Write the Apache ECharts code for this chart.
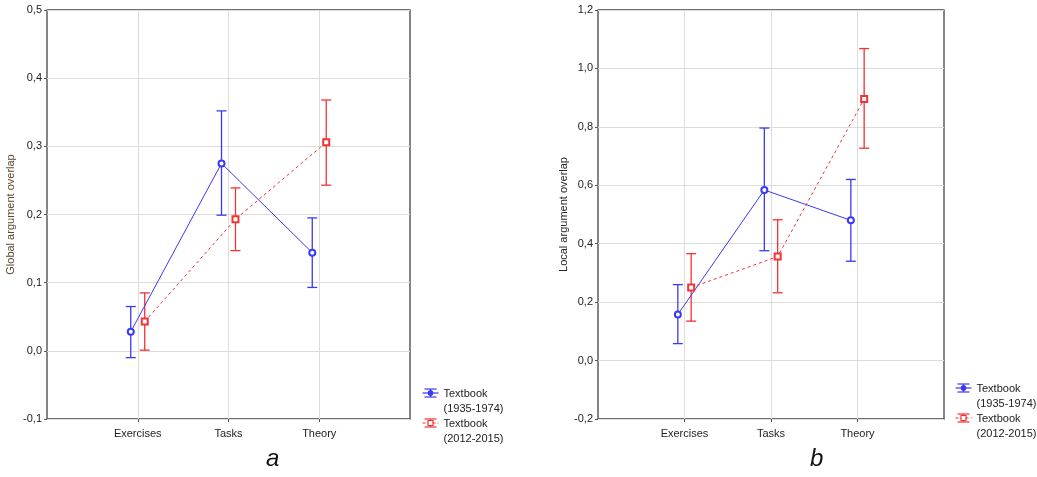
<!DOCTYPE html>
<html>
<head>
<meta charset="utf-8">
<script src="https://cdn.jsdelivr.net/npm/echarts@6/dist/echarts.min.js"></script>
<style>
html,body{margin:0;padding:0;background:#fff;}
#chart{width:1037px;height:477px;}
</style>
</head>
<body>
<div id="chart"></div>
<script>
// 数据 ------------------
var categories = ['Exercises', 'Tasks', 'Theory'];
var seriesNames = ['Textbook\n(1935-1974)', 'Textbook\n(2012-2015)'];

// a: Global argument overlap
var globalOld = [0.028, 0.275, 0.144];
var globalOldLow = [-0.010, 0.199, 0.093];
var globalOldHigh = [0.065, 0.352, 0.195];
var globalNew = [0.043, 0.193, 0.306];
var globalNewLow = [0.001, 0.147, 0.243];
var globalNewHigh = [0.085, 0.239, 0.368];

// b: Local argument overlap
var localOld = [0.158, 0.584, 0.480];
var localOldLow = [0.058, 0.376, 0.340];
var localOldHigh = [0.260, 0.796, 0.620];
var localNew = [0.250, 0.356, 0.895];
var localNewLow = [0.135, 0.232, 0.727];
var localNewHigh = [0.366, 0.482, 1.068];

var BLUE = '#3a3af2';
var RED = '#f23333';
var OFFSET = 0.077;

function pts(vals, off) {
	return vals.map(function (v, i) { return [i + 1 + off, v]; });
}
function errPts(low, high, off) {
	return low.map(function (l, i) { return [i + 1 + off, l, high[i]]; });
}
function comma(v) {
	return (Math.round(v * 10) / 10).toFixed(1).replace('.', ',');
}

function errSeries(idx, data, color) {
	return {
		type: 'custom',
		xAxisIndex: idx, yAxisIndex: idx,
		silent: true,
		z: 3,
		encode: { x: 0, y: [1, 2] },
		renderItem: function (params, api) {
			var x = api.value(0);
			var lo = api.coord([x, api.value(1)]);
			var hi = api.coord([x, api.value(2)]);
			var w = 5;
			var st = { stroke: color, lineWidth: 1.3 };
			return {
				type: 'group',
				children: [
					{ type: 'line', shape: { x1: lo[0], y1: lo[1], x2: hi[0], y2: hi[1] }, style: st },
					{ type: 'line', shape: { x1: lo[0] - w, y1: lo[1], x2: lo[0] + w, y2: lo[1] }, style: st },
					{ type: 'line', shape: { x1: hi[0] - w, y1: hi[1], x2: hi[0] + w, y2: hi[1] }, style: st }
				]
			};
		},
		data: data
	};
}

function lineSeries(idx, data, color, dashed) {
	return {
		type: 'line',
		xAxisIndex: idx, yAxisIndex: idx,
		data: data,
		symbol: dashed ? 'emptyRect' : 'emptyCircle',
		symbolSize: 6,
		itemStyle: { color: color, borderWidth: 1 },
		lineStyle: { color: color, width: 1, type: dashed ? [3, 3] : 'solid' },
		z: 4,
		silent: true
	};
}

function xAxisOf(idx) {
	return {
		type: 'value', gridIndex: idx, min: 0, max: 4, interval: 1,
		position: 'bottom',
		axisLine: { show: false, onZero: false },
		axisTick: { show: true, length: 3, customValues: [1, 2, 3], lineStyle: { color: '#555' } },
		axisLabel: {
			color: '#222', fontSize: 11, fontFamily: 'Liberation Sans, Arial', margin: 9,
			formatter: function (v) { return categories[v - 1] || ''; }
		},
		splitLine: { show: true, lineStyle: { color: '#dcdcdc', width: 1 } }
	};
}

function yAxisOf(idx, min, max, step, name, nameColor, gap) {
	return {
		type: 'value', gridIndex: idx, min: min, max: max, interval: step,
		name: name, nameLocation: 'middle', nameGap: gap,
		nameTextStyle: { color: nameColor, fontSize: 11, fontFamily: 'Liberation Sans, Arial' },
		axisLine: { show: false, onZero: false },
		axisTick: { show: true, length: 3, lineStyle: { color: '#555' } },
		axisLabel: { color: '#222', fontSize: 11, fontFamily: 'Liberation Sans, Arial', margin: 5, formatter: comma },
		splitLine: { show: true, lineStyle: { color: '#dcdcdc', width: 1 } }
	};
}

// 图例 (graphic)
function legendGroup(left, top) {
	function icon(y, color, dashed, rectMark) {
		var st = { stroke: color, lineWidth: 1.2, fill: 'none' };
		var lst = { stroke: color, lineWidth: 1.2, lineDash: dashed ? [3, 2] : null };
		return [
			{ type: 'line', shape: { x1: 0, y1: y, x2: 16, y2: y }, style: lst },
			{ type: 'line', shape: { x1: 2, y1: y - 4, x2: 14, y2: y - 4 }, style: st },
			{ type: 'line', shape: { x1: 2, y1: y + 4, x2: 14, y2: y + 4 }, style: st },
			{ type: 'line', shape: { x1: 8, y1: y - 4, x2: 8, y2: y + 4 }, style: st },
			rectMark
				? { type: 'rect', shape: { x: 5.5, y: y - 2.5, width: 5, height: 5 }, style: { stroke: color, fill: '#fff', lineWidth: 1.2 } }
				: { type: 'circle', shape: { cx: 8, cy: y, r: 2.5 }, style: { stroke: color, fill: color, lineWidth: 1 } }
		];
	}
	var txt = { fill: '#222', fontSize: 11, fontFamily: 'Liberation Sans, Arial', lineHeight: 15 };
	return {
		type: 'group', left: left, top: top,
		children: icon(7, BLUE, false, false).concat(icon(37, RED, true, true)).concat([
			{ type: 'text', x: 21, y: 0, style: Object.assign({ text: seriesNames[0] }, txt) },
			{ type: 'text', x: 21, y: 30, style: Object.assign({ text: seriesNames[1] }, txt) }
		])
	};
}

var chart = echarts.init(document.getElementById('chart'), null, { renderer: 'canvas' });

var option = {
	backgroundColor: '#fff',
	animation: false,
	grid: [
		{ left: 47, top: 10, width: 363, height: 409, show: true, borderColor: '#444', borderWidth: 1.3, backgroundColor: 'transparent' },
		{ left: 598, top: 10, width: 346, height: 409, show: true, borderColor: '#444', borderWidth: 1.3, backgroundColor: 'transparent' }
	],
	xAxis: [xAxisOf(0), xAxisOf(1)],
	yAxis: [
		yAxisOf(0, -0.1, 0.5, 0.1, 'Global argument overlap', '#5c4630', 31),
		yAxisOf(1, -0.2, 1.2, 0.2, 'Local argument overlap', '#222', 29)
	],
	graphic: [
		legendGroup(420, 386),
		legendGroup(953, 381),
		{ type: 'text', left: 266, top: 447, style: { text: 'a', fill: '#111', fontSize: 24, fontStyle: 'italic', fontFamily: 'Liberation Sans, Arial' } },
		{ type: 'text', left: 810, top: 447, style: { text: 'b', fill: '#111', fontSize: 24, fontStyle: 'italic', fontFamily: 'Liberation Sans, Arial' } }
	],
	series: [
		errSeries(0, errPts(globalOldLow, globalOldHigh, -OFFSET), BLUE),
		errSeries(0, errPts(globalNewLow, globalNewHigh, OFFSET), RED),
		lineSeries(0, pts(globalOld, -OFFSET), BLUE, false),
		lineSeries(0, pts(globalNew, OFFSET), RED, true),
		errSeries(1, errPts(localOldLow, localOldHigh, -OFFSET), BLUE),
		errSeries(1, errPts(localNewLow, localNewHigh, OFFSET), RED),
		lineSeries(1, pts(localOld, -OFFSET), BLUE, false),
		lineSeries(1, pts(localNew, OFFSET), RED, true)
	]
};

chart.setOption(option);
</script>
</body>
</html>
